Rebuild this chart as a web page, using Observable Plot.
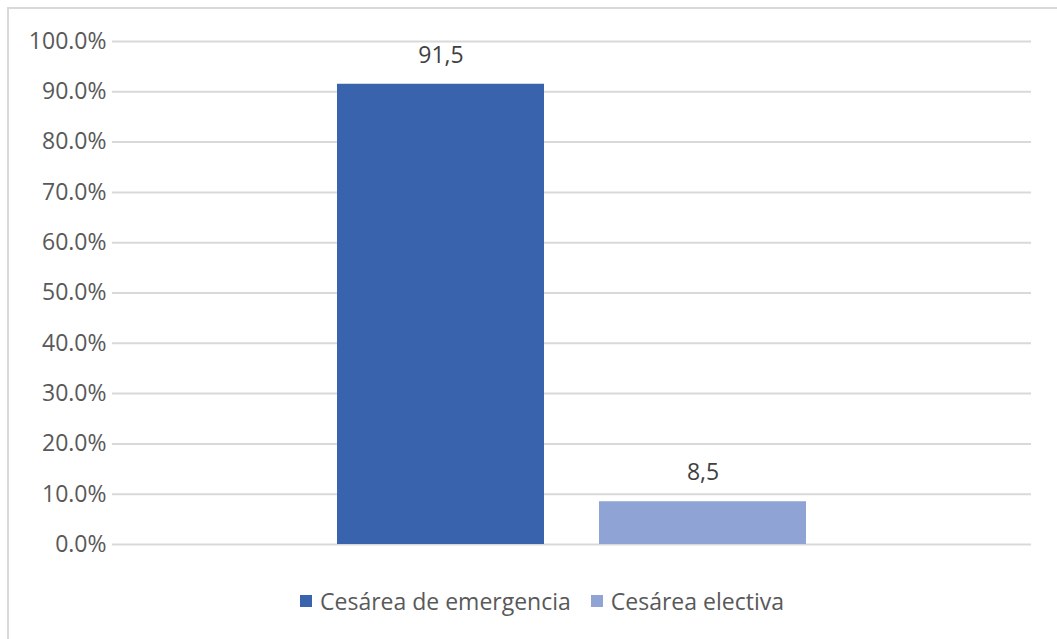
<!DOCTYPE html>
<html>
<head>
<meta charset="utf-8">
<script src="https://cdn.jsdelivr.net/npm/d3@7"></script>
<script src="https://cdn.jsdelivr.net/npm/@observablehq/plot@0.6"></script>
<style>
  html, body { margin: 0; padding: 0; background: #fff; overflow: hidden; }
  #frame {
    position: absolute; left: 7px; top: 7px; width: 1100px; height: 700px;
    border-top: 2px solid #d9d9d9; border-left: 2px solid #d9d9d9;
  }
  #chart { position: absolute; left: 0; top: 0; }
  #legend {
    position: absolute; left: 0; top: 584px; width: 1084px;
    display: flex; justify-content: center; gap: 20px;
    font-family: "Open Sans", "Noto Sans", sans-serif; font-size: 23px; color: #595959;
    line-height: 34px;
  }
  .item { display: flex; align-items: center; gap: 8px; }
  .sw { width: 12px; height: 12px; display: inline-block; }
</style>
</head>
<body>
<div id="frame"></div>
<div id="chart"></div>
<div id="legend"></div>
<script>
const series = ["Cesárea de emergencia", "Cesárea electiva"];
const values = [91.5, 8.5];
const colors = ["#3A63AD", "#8FA3D5"];
const yTicks = [0, 10, 20, 30, 40, 50, 60, 70, 80, 90, 100];

const data = series.map((s, i) => ({ series: s, value: values[i] }));

const chart = Plot.plot({
  width: 1057,
  height: 560,
  marginLeft: 112,
  marginRight: 26,
  marginTop: 41,
  marginBottom: 16,
  style: { fontFamily: "'Open Sans', 'Noto Sans', sans-serif", fontSize: "23px", background: "transparent", overflow: "visible" },
  x: { type: "band", domain: series, paddingInner: 0.21, paddingOuter: 0.857, axis: null },
  y: { domain: [0, 100] },
  color: { domain: series, range: colors },
  marks: [
    Plot.ruleY(yTicks, { stroke: "#d9d9d9", strokeWidth: 2 }),
    Plot.axisY(yTicks, {
      tickSize: 0, tickPadding: 6, fontSize: 23, fill: "#595959",
      tickFormat: d => d.toFixed(1) + "%", label: null
    }),
    Plot.barY(data, { x: "series", y: "value", fill: "series" }),
    Plot.text(data, {
      x: "series", y: "value", text: d => d.value.toFixed(1).replace(".", ","),
      dy: -29, lineAnchor: "middle", fontSize: 23, fill: "#404040"
    })
  ]
});
document.getElementById("chart").appendChild(chart);

const legend = document.getElementById("legend");
series.forEach((s, i) => {
  const it = document.createElement("div");
  it.className = "item";
  it.innerHTML = `<span class="sw" style="background:${colors[i]}"></span><span>${s}</span>`;
  legend.appendChild(it);
});
</script>
</body>
</html>
